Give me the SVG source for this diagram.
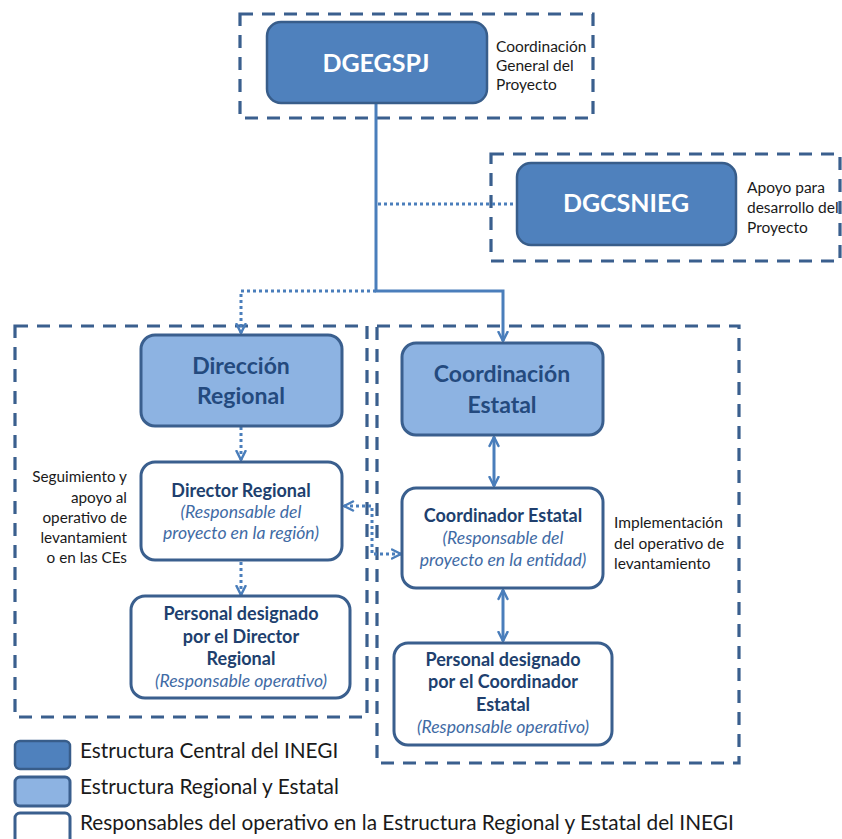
<svg xmlns="http://www.w3.org/2000/svg" width="842" height="839" viewBox="0 0 842 839">
<defs>
<marker id="arr" viewBox="0 0 12 12" refX="10.5" refY="6" markerWidth="12" markerHeight="12" markerUnits="userSpaceOnUse" orient="auto-start-reverse">
<path d="M1.5,1.5 L10.5,6 L1.5,10.5" fill="none" stroke="#4A7EBB" stroke-width="2.5" stroke-linecap="round" stroke-linejoin="round"/>
</marker>
</defs>
<style>
.dash{fill:none;stroke:#3A5F8E;stroke-width:3.2;stroke-dasharray:13,9}
.dark{fill:#4F81BD;stroke:#385D8A;stroke-width:2.5}
.light{fill:#8DB3E2;stroke:#3A5F8E;stroke-width:3}
.white{fill:#FFFFFF;stroke:#3A5F8E;stroke-width:3}
.solid{fill:none;stroke:#4A7EBB;stroke-width:3}
.dot{fill:none;stroke:#4A7EBB;stroke-width:3;stroke-dasharray:3,3}
text{font-family:Lato,"Liberation Sans",sans-serif}
.big{font-size:25px;font-weight:bold;fill:#FFFFFF;text-anchor:middle}
.mid{font-size:23px;font-weight:bold;fill:#244A7E;text-anchor:middle}
.b{font-size:18px;font-weight:bold;fill:#203F6E;text-anchor:middle}
.i{font-size:17.6px;font-style:italic;fill:#3F6BA5;text-anchor:middle}
.note{font-size:15.5px;fill:#1A1A1A}
.noteR{font-size:15.3px;fill:#1A1A1A;text-anchor:end}
.leg{font-size:20.8px;fill:#1A1A1A}
</style>

<g id="containers">
<rect class="dash" x="240" y="14" width="353" height="104"/>
<rect class="dash" x="491" y="154" width="349" height="107"/>
<rect class="dash" x="15" y="326" width="352" height="391"/>
<rect class="dash" x="377" y="326" width="362" height="437"/>
</g>

<g id="connectors">
<path class="solid" d="M376,103 V291 H503 V341" marker-end="url(#arr)"/>
<path class="dot" d="M376,291 H241 V333" marker-end="url(#arr)"/>
<path class="dot" d="M378,204 H516"/>
<path class="dot" d="M241,427 V460" marker-end="url(#arr)"/>
<path class="dot" d="M241,562 V595" marker-end="url(#arr)"/>
<path class="solid" d="M494,437 V486" marker-start="url(#arr)" marker-end="url(#arr)"/>
<path class="solid" d="M503,590 V641" marker-start="url(#arr)" marker-end="url(#arr)"/>
<path class="dot" d="M344,506 H372 V554 H401" marker-start="url(#arr)" marker-end="url(#arr)"/>
</g>

<g id="dgegspj">
<rect class="dark" x="267" y="22" width="220" height="81" rx="14"/>
<text class="big" x="376" y="72">DGEGSPJ</text>
</g>
<g id="dgegspj-note">
<text class="note" x="496" y="52">Coordinación</text>
<text class="note" x="496" y="71">General del</text>
<text class="note" x="496" y="90">Proyecto</text>
</g>

<g id="dgcsnieg">
<rect class="dark" x="517" y="163" width="219" height="82" rx="14"/>
<text class="big" x="626" y="212">DGCSNIEG</text>
</g>
<g id="dgcsnieg-note">
<text class="note" x="747" y="193">Apoyo para</text>
<text class="note" x="747" y="213">desarrollo del</text>
<text class="note" x="747" y="233">Proyecto</text>
</g>

<g id="direccion-regional">
<rect class="light" x="141" y="335" width="201" height="91" rx="14"/>
<text class="mid" x="241" y="374">Dirección</text>
<text class="mid" x="241" y="404">Regional</text>
</g>

<g id="director-regional">
<rect class="white" x="141" y="462" width="201" height="98" rx="14"/>
<text class="b" x="241" y="497">Director Regional</text>
<text class="i" x="241" y="518">(Responsable del</text>
<text class="i" x="241" y="539">proyecto en la región)</text>
</g>

<g id="personal-dr">
<rect class="white" x="131" y="596" width="219" height="102" rx="14"/>
<text class="b" x="241" y="620">Personal designado</text>
<text class="b" x="241" y="643">por el Director</text>
<text class="b" x="241" y="665">Regional</text>
<text class="i" x="241" y="687">(Responsable operativo)</text>
</g>

<g id="dr-note">
<text class="noteR" x="127" y="482">Seguimiento y</text>
<text class="noteR" x="127" y="503">apoyo al</text>
<text class="noteR" x="127" y="523">operativo de</text>
<text class="noteR" x="127" y="543">levantamient</text>
<text class="noteR" x="127" y="563">o en las CEs</text>
</g>

<g id="coordinacion-estatal">
<rect class="light" x="402" y="343" width="201" height="92" rx="14"/>
<text class="mid" x="502" y="382">Coordinación</text>
<text class="mid" x="502" y="413">Estatal</text>
</g>

<g id="coordinador-estatal">
<rect class="white" x="402" y="488" width="201" height="100" rx="14"/>
<text class="b" x="503" y="522">Coordinador Estatal</text>
<text class="i" x="503" y="544">(Responsable del</text>
<text class="i" x="503" y="566">proyecto en la entidad)</text>
</g>

<g id="personal-ce">
<rect class="white" x="394" y="643" width="218" height="102" rx="14"/>
<text class="b" x="503" y="666">Personal designado</text>
<text class="b" x="503" y="688">por el Coordinador</text>
<text class="b" x="503" y="711">Estatal</text>
<text class="i" x="503" y="733">(Responsable operativo)</text>
</g>

<g id="ce-note">
<text class="note" x="614" y="528">Implementación</text>
<text class="note" x="614" y="549">del operativo de</text>
<text class="note" x="614" y="569">levantamiento</text>
</g>

<g id="legend">
<rect class="dark" x="15" y="741" width="55" height="28" rx="5"/>
<text class="leg" x="80" y="758">Estructura Central del INEGI</text>
<rect class="light" x="15" y="777" width="55" height="29" rx="5"/>
<text class="leg" x="80" y="794">Estructura Regional y Estatal</text>
<rect class="white" x="15" y="813" width="55" height="32" rx="5"/>
<text class="leg" x="80" y="830">Responsables del operativo en la Estructura Regional y Estatal del INEGI</text>
</g>
</svg>
